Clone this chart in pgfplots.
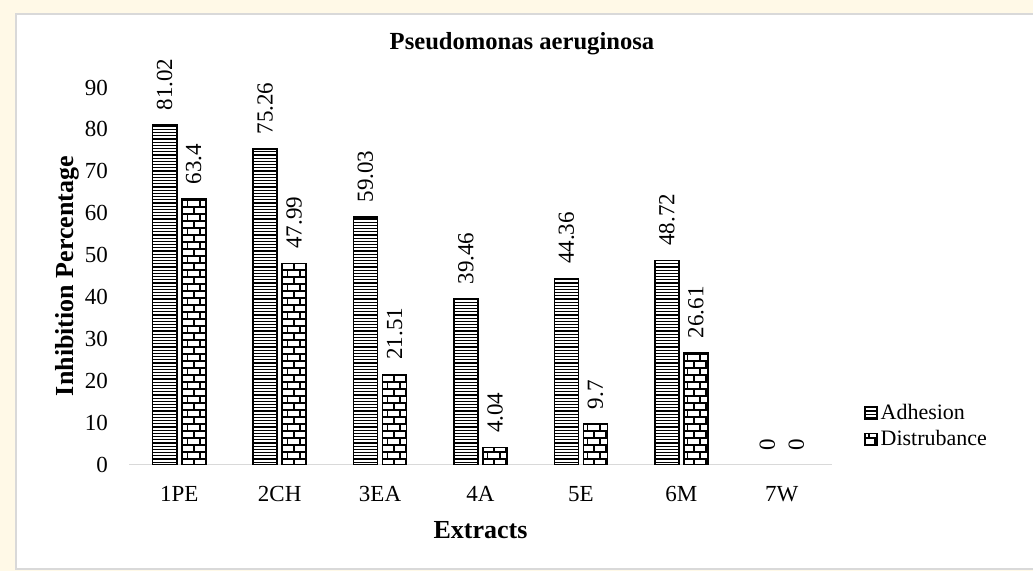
\documentclass[border=0pt]{standalone}
\usepackage{fontspec}
\setmainfont{Liberation Serif}
\usepackage{pgfplots}
\usepackage{pgfplotstable}
\pgfplotsset{compat=1.18}
\usetikzlibrary{patterns}
\definecolor{bgy}{HTML}{FFF9E7}
\definecolor{panelgray}{HTML}{D9D9D9}
\pgfdeclarepatternformonly{hl}{\pgfqpoint{0pt}{-0.8pt}}{\pgfqpoint{4pt}{0.8pt}}{\pgfqpoint{4pt}{1.6pt}}{%
 \pgfsetlinewidth{0.6pt}\pgfpathmoveto{\pgfqpoint{0pt}{0pt}}\pgfpathlineto{\pgfqpoint{4pt}{0pt}}\pgfusepath{stroke}}
\pgfdeclarepatternformonly{br}{\pgfqpoint{-0.5pt}{-0.5pt}}{\pgfqpoint{6.75pt}{7.5pt}}{\pgfqpoint{6.25pt}{7pt}}{%
 \pgfsetlinewidth{0.8pt}%
 \pgfpathmoveto{\pgfqpoint{0pt}{0pt}}\pgfpathlineto{\pgfqpoint{6.25pt}{0pt}}%
 \pgfpathmoveto{\pgfqpoint{0pt}{3.5pt}}\pgfpathlineto{\pgfqpoint{6.25pt}{3.5pt}}%
 \pgfpathmoveto{\pgfqpoint{0pt}{0pt}}\pgfpathlineto{\pgfqpoint{0pt}{3.5pt}}%
 \pgfpathmoveto{\pgfqpoint{3.125pt}{3.5pt}}\pgfpathlineto{\pgfqpoint{3.125pt}{7pt}}%
 \pgfusepath{stroke}}
\pgfplotstableread{
x adh dis
0 81.02 63.4
1 75.26 47.99
2 59.03 21.51
3 39.46 4.04
4 44.36 9.7
5 48.72 26.61
}\datamain
\pgfplotstableread{
x adh dis
6 0 0
}\dataw
\begin{document}
\begin{tikzpicture}
\useasboundingbox (0,0) rectangle (516.5pt,285.5pt);
\fill[bgy] (0,0) rectangle (516.5pt,285.5pt);
\filldraw[fill=white, draw=panelgray, line width=0.75pt] (8pt,1pt) rectangle (520pt,278.5pt);
\begin{axis}[
 at={(64.5pt,53.25pt)}, anchor=south west, scale only axis,
 width=351.5pt, height=188.5pt,
 xmin=-0.5, xmax=6.5, ymin=0, ymax=90, ytick={0,10,...,90},
 xtick={0,...,6}, xticklabels={1PE,2CH,3EA,4A,5E,6M,7W},
 axis x line=bottom, axis y line=left,
 x axis line style={draw=panelgray, line width=0.75pt, -},
 y axis line style={draw=none},
 major tick length=0pt, tick style={draw=none},
 ticklabel style={font=\fontsize{11.5}{13}\selectfont},
 /pgf/number format/assume math mode=true,
 yticklabel style={xshift=-7pt}, xticklabel style={yshift=-7.5pt},
 ybar, bar width=0.24, clip=false,
 nodes near coords,
 every node near coord/.append style={rotate=90, anchor=west, inner xsep=7pt, inner ysep=0pt, font=\fontsize{11.5}{13}\selectfont, black},
 title={Pseudomonas aeruginosa},
 title style={at={(axis description cs:0.559,1.085)}, anchor=center, font=\bfseries\fontsize{12.3}{14}\selectfont},
 xlabel={Extracts},
 xlabel style={at={(axis description cs:0.5,-0.174)}, anchor=center, font=\bfseries\fontsize{13}{15}\selectfont},
 ylabel={Inhibition Percentage},
 ylabel style={at={(axis description cs:-0.087,0.5)}, anchor=center, font=\bfseries\fontsize{13}{15}\selectfont},
 legend style={at={(axis description cs:1.037,0.102)}, anchor=west, draw=none, fill=none,
   font=\fontsize{11}{12}\selectfont, row sep=1pt, nodes={inner sep=1.5pt}},
 legend cell align=left,
 legend image code/.code={\draw[#1, line width=0.6pt] (0pt,-3pt) rectangle (6pt,3pt);},
]
\addplot[draw=black, line width=0.8pt, pattern=hl, bar shift=-0.145] table[x=x,y=adh]{\datamain};
\addlegendentry{Adhesion}
\addplot[draw=black, line width=0.8pt, pattern=br, bar shift=0.145] table[x=x,y=dis]{\datamain};
\addlegendentry{Distrubance}
\addplot[draw=none, fill=none, bar shift=-0.145, forget plot] table[x=x,y=adh]{\dataw};
\addplot[draw=none, fill=none, bar shift=0.145, forget plot] table[x=x,y=dis]{\dataw};
\end{axis}
\end{tikzpicture}
\end{document}
